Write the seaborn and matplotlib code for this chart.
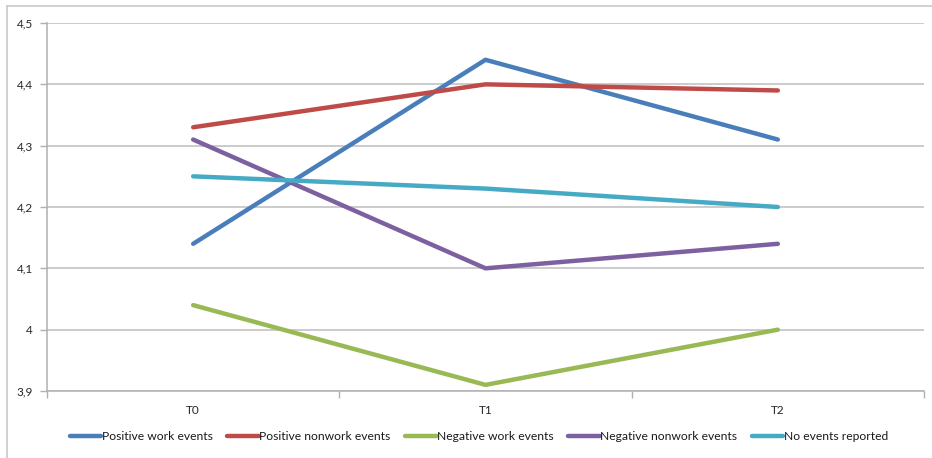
import matplotlib
matplotlib.use("Agg")
import matplotlib.pyplot as plt
from matplotlib.lines import Line2D
import seaborn as sns
import pandas as pd

# Measurement occasions
periods = ["T0", "T1", "T2"]

# Mean scores per group
positive_work = [4.14, 4.44, 4.31]
positive_nonwork = [4.33, 4.40, 4.39]
negative_work = [4.04, 3.91, 4.00]
negative_nonwork = [4.31, 4.10, 4.14]
no_events = [4.25, 4.23, 4.20]

series_names = [
    "Positive work events",
    "Positive nonwork events",
    "Negative work events",
    "Negative nonwork events",
    "No events reported",
]
series_values = [positive_work, positive_nonwork, negative_work, negative_nonwork, no_events]
colors = ["#4A7EBB", "#BE4B48", "#98B954", "#7D60A0", "#46AAC5"]

y_ticks = [3.9, 4.0, 4.1, 4.2, 4.3, 4.4, 4.5]
y_tick_labels = ["3,9", "4", "4,1", "4,2", "4,3", "4,4", "4,5"]

rows = []
for name, vals in zip(series_names, series_values):
    for i, (p, v) in enumerate(zip(periods, vals)):
        rows.append({"group": name, "pos": i, "period": p, "value": v})
df = pd.DataFrame(rows)

sns.set_theme(style="white")
plt.rcParams["font.family"] = ["Lato", "DejaVu Sans"]

fig = plt.figure(figsize=(9.32, 4.58), dpi=100)
ax = fig.add_axes([47 / 932, 1 - 391 / 458, (924 - 47) / 932, (391 - 23) / 458])

sns.lineplot(data=df, x="pos", y="value", hue="group", hue_order=series_names,
             palette=colors, linewidth=3.2, legend=False, ax=ax,
             solid_capstyle="round")

ax.set_xlim(-0.5, 2.5)
ax.set_ylim(3.9, 4.5)
ax.set_yticks(y_ticks)
ax.set_yticklabels(y_tick_labels)
ax.set_xticks(range(len(periods)))
ax.set_xticklabels(periods)
ax.set_xticks([-0.5, 0.5, 1.5, 2.5], minor=True)
ax.set_xlabel("")
ax.set_ylabel("")

ax.grid(axis="y", color="#BDBDBD", linewidth=1.1)
ax.set_axisbelow(True)
for s in ["top", "right"]:
    ax.spines[s].set_visible(False)
for s in ["left", "bottom"]:
    ax.spines[s].set_color("#B0B0B0")
    ax.spines[s].set_linewidth(1.1)

ax.tick_params(axis="y", which="major", length=5, width=1, color="#B0B0B0",
               labelsize=8.5, labelcolor="#262626", pad=5, left=True)
ax.tick_params(axis="x", which="major", length=0, labelsize=8.5,
               labelcolor="#262626", pad=10)
ax.tick_params(axis="x", which="minor", length=5, width=1, color="#B0B0B0",
               direction="out", bottom=True)

handles = [Line2D([0], [0], color=c, lw=3.2, solid_capstyle="round") for c in colors]
fig.legend(handles, series_names, loc="center", bbox_to_anchor=(479 / 932, 1 - 437 / 458),
           ncol=5, frameon=False, fontsize=8.7, handlelength=2.6,
           handletextpad=0.05, columnspacing=1.2, labelcolor="#1a1a1a")

# Chart frame (left and top edges)
fig.add_artist(Line2D([7 / 932, 7 / 932], [0, 1 - 6 / 458], transform=fig.transFigure,
                      color="#C8C8C8", lw=1.2))
fig.add_artist(Line2D([7 / 932, 1], [1 - 6 / 458, 1 - 6 / 458], transform=fig.transFigure,
                      color="#C8C8C8", lw=1.2))

fig.savefig("out.png", dpi=100)
